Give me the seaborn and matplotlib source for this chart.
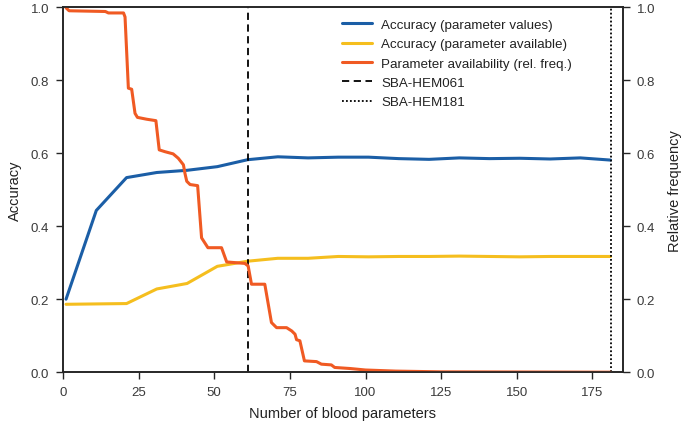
import numpy as np
import pandas as pd
import matplotlib
matplotlib.use("Agg")
import matplotlib.pyplot as plt
import seaborn as sns
from matplotlib.lines import Line2D

# ---- data -------------------------------------------------------------
n_params = [1, 11, 21, 31, 41, 51, 61, 71, 81, 91, 101, 111, 121, 131, 141, 151, 161, 171, 181]
acc_values = [0.200, 0.443, 0.533, 0.547, 0.553, 0.563, 0.582, 0.590, 0.587, 0.589,
              0.589, 0.585, 0.583, 0.587, 0.585, 0.586, 0.584, 0.587, 0.581]
acc_available = [0.186, 0.187, 0.188, 0.228, 0.243, 0.290, 0.304, 0.312, 0.312, 0.317,
                 0.316, 0.317, 0.317, 0.318, 0.317, 0.316, 0.317, 0.317, 0.317]

avail_x = [1, 2, 14, 15, 20, 20.5, 21.6, 22.7, 23.8, 24.6, 27.6, 30.7, 31.8, 33.7, 36.4,
           38.1, 39.8, 40.3, 40.9, 42, 44.5, 45.8, 47.9, 52.4, 54.1, 60.1, 61.2, 62.3,
           66.7, 68.9, 70.6, 73.9, 75.6, 76.7, 77.2, 78.3, 79.8, 83.8, 85.4, 88.7, 89.8,
           95, 100, 110, 125, 181]
avail_freq = [0.998, 0.990, 0.988, 0.984, 0.984, 0.973, 0.778, 0.775, 0.709, 0.698, 0.693,
              0.689, 0.609, 0.604, 0.598, 0.586, 0.568, 0.545, 0.523, 0.514, 0.511, 0.368,
              0.341, 0.341, 0.302, 0.298, 0.291, 0.241, 0.241, 0.136, 0.122, 0.122, 0.113,
              0.104, 0.089, 0.086, 0.031, 0.029, 0.022, 0.020, 0.013, 0.010, 0.006, 0.003,
              0.001, 0.000]

marker_a = 61
marker_b = 181
label_a = "SBA-HEM061"
label_b = "SBA-HEM181"

# ---- style ------------------------------------------------------------
sns.set_style("ticks")
plt.rcParams["font.family"] = ["Liberation Sans", "DejaVu Sans"]
plt.rcParams["axes.edgecolor"] = "#262626"
plt.rcParams["axes.linewidth"] = 1.2
plt.rcParams["xtick.major.size"] = 5
plt.rcParams["ytick.major.size"] = 5
plt.rcParams["xtick.major.width"] = 1.0
plt.rcParams["ytick.major.width"] = 1.0

c_blue = "#1b5ea6"
c_yellow = "#f5be1e"
c_orange = "#f05a23"

fig = plt.figure(figsize=(6.85, 4.27), dpi=100)
ax = fig.add_axes([0.092, 0.126, 0.817, 0.855])
ax2 = ax.twinx()

df = pd.DataFrame({"n": n_params, "values": acc_values, "available": acc_available})
df_av = pd.DataFrame({"n": avail_x, "freq": avail_freq})

lw = 2.2
sns.lineplot(data=df, x="n", y="values", ax=ax, color=c_blue, lw=lw)
sns.lineplot(data=df, x="n", y="available", ax=ax, color=c_yellow, lw=lw)
sns.lineplot(data=df_av, x="n", y="freq", ax=ax2, color=c_orange, lw=lw)

ax.axvline(marker_a, color="black", ls=(0, (4, 2.5)), lw=1.3)
ax.axvline(marker_b, color="black", ls=(0, (1, 1.2)), lw=1.3)

ax.set_xlim(0, 185)
ax.set_ylim(0, 1)
ax2.set_ylim(0, 1)
ax.set_xticks([0, 25, 50, 75, 100, 125, 150, 175])
ax.set_yticks([0, 0.2, 0.4, 0.6, 0.8, 1.0])
ax2.set_yticks([0, 0.2, 0.4, 0.6, 0.8, 1.0])
ax.yaxis.set_major_formatter(matplotlib.ticker.FormatStrFormatter("%.1f"))
ax2.yaxis.set_major_formatter(matplotlib.ticker.FormatStrFormatter("%.1f"))

for a in (ax, ax2):
    a.tick_params(labelsize=9.5, colors="#262626", labelcolor="#3a3a3a", pad=5)
    for s in a.spines.values():
        s.set_visible(True)

ax.set_xlabel("Number of blood parameters", fontsize=10.5, color="#222222", labelpad=6)
ax.set_ylabel("Accuracy", fontsize=10.5, color="#222222", labelpad=6)
ax2.set_ylabel("Relative frequency", fontsize=10.5, color="#222222", labelpad=9)

handles = [
    Line2D([], [], color=c_blue, lw=lw),
    Line2D([], [], color=c_yellow, lw=lw),
    Line2D([], [], color=c_orange, lw=lw),
    Line2D([], [], color="black", ls=(0, (4, 2.5)), lw=1.3),
    Line2D([], [], color="black", ls=(0, (1, 1.2)), lw=1.3),
]
labels = ["Accuracy (parameter values)", "Accuracy (parameter available)",
          "Parameter availability (rel. freq.)", label_a, label_b]
leg = ax2.legend(handles, labels, loc="upper left", bbox_to_anchor=(0.499, 0.968),
                 frameon=False, fontsize=9.6, borderpad=0, borderaxespad=0,
                 handlelength=2.2, handletextpad=0.7, labelspacing=0.52)
for t in leg.get_texts():
    t.set_color("#222222")

fig.savefig("out.png", dpi=100)
